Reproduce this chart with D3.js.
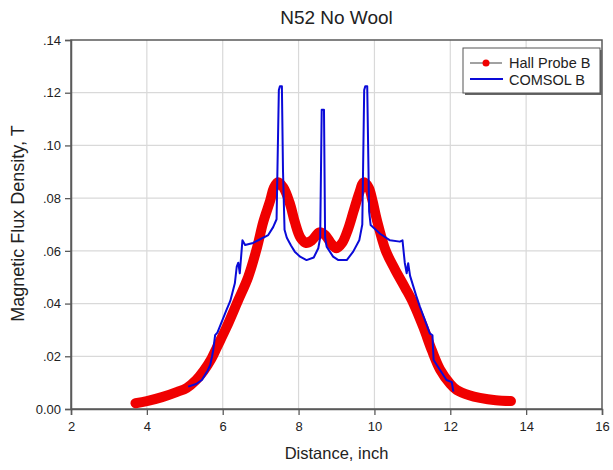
<!DOCTYPE html>
<html>
<head>
<meta charset="utf-8">
<script src="https://cdn.jsdelivr.net/npm/d3@7"></script>
<style>
  html, body { margin: 0; padding: 0; background: #fff; }
  svg { display: block; font-family: "Liberation Sans", Arial, sans-serif; }
</style>
</head>
<body>
<svg id="chart" width="613" height="470"></svg>
<script>
// ---- data ----
const title = "N52 No Wool";
const xLabel = "Distance, inch";
const yLabel = "Magnetic Flux Density, T";
const seriesNames = ["Hall Probe B", "COMSOL B"];
const xTicks = [2, 4, 6, 8, 10, 12, 14, 16];
const yTicks = [0, 0.02, 0.04, 0.06, 0.08, 0.10, 0.12, 0.14];

const hallX = [3.7, 4.0, 4.4, 4.8, 5.05, 5.3, 5.5, 5.7, 5.85, 6.1, 6.4, 6.67, 6.9, 7.07, 7.25, 7.35, 7.46,
  7.6, 7.77, 7.9, 8.05, 8.2, 8.35, 8.55, 8.7, 8.85, 9.0, 9.15, 9.3, 9.45, 9.6, 9.72,
  9.85, 9.95, 10.06, 10.3, 10.54, 10.81, 11.03, 11.29, 11.51, 11.73, 12.0, 12.17, 12.5, 12.78, 13.2, 13.6];
const hallB = [0.0022, 0.003, 0.0045, 0.0065, 0.008, 0.011, 0.0145, 0.019, 0.0235, 0.031, 0.041, 0.050, 0.061, 0.071, 0.079, 0.084, 0.086,
  0.084, 0.078, 0.071, 0.065, 0.063, 0.064, 0.067, 0.066, 0.063, 0.061, 0.063, 0.068, 0.075, 0.082, 0.086,
  0.084, 0.079, 0.072, 0.060, 0.053, 0.046, 0.040, 0.031, 0.0224, 0.015, 0.0095, 0.0072, 0.0052, 0.0042, 0.0033, 0.003];

const comsolX = [5.09, 5.3, 5.45, 5.6, 5.67, 5.72, 5.75, 5.8, 5.86, 6.0, 6.1, 6.2, 6.32, 6.37, 6.41, 6.45, 6.52, 6.59,
  6.8, 7.0, 7.2, 7.33, 7.42, 7.48, 7.51, 7.56, 7.59, 7.63, 7.69, 7.8, 7.9, 8.04, 8.21, 8.4, 8.52,
  8.57, 8.61, 8.67, 8.7, 8.74, 8.91, 9.05, 9.27, 9.44, 9.6, 9.68, 9.73, 9.76, 9.81, 9.86, 9.9,
  10.15, 10.41, 10.67, 10.74, 10.8, 10.85, 10.89, 10.94, 11.1, 11.2, 11.46, 11.53, 11.56, 11.73, 11.9, 12.04, 12.08];
const comsolB = [0.0085, 0.0095, 0.011, 0.0145, 0.0167, 0.020, 0.0224, 0.028, 0.029, 0.034, 0.0376, 0.041, 0.0477, 0.054, 0.0555, 0.0515, 0.064, 0.0622,
  0.063, 0.0645, 0.066, 0.069, 0.072, 0.121, 0.1225, 0.1225, 0.09, 0.068, 0.065, 0.062, 0.0597, 0.0578, 0.0565, 0.0575, 0.061,
  0.065, 0.1135, 0.1135, 0.065, 0.0616, 0.0578, 0.0565, 0.0565, 0.0597, 0.064, 0.07, 0.121, 0.1225, 0.1225, 0.075, 0.0698,
  0.0665, 0.064, 0.0635, 0.064, 0.0555, 0.0515, 0.0553, 0.0505, 0.043, 0.0388, 0.0287, 0.028, 0.0186, 0.0148, 0.011, 0.0102, 0.0066];

// ---- layout ----
const svg = d3.select("#chart");
const L = 71, R = 602, T = 40, B = 409;
const x = d3.scaleLinear().domain([2, 16]).range([L, R]);
const y = d3.scaleLinear().domain([0, 0.14]).range([B, T]);

// gridlines
svg.append("g").selectAll("line.vx").data(xTicks.slice(1, -1)).join("line")
  .attr("x1", d => x(d)).attr("x2", d => x(d)).attr("y1", T).attr("y2", B)
  .attr("stroke", "#d9d9d9").attr("stroke-width", 1.2);
svg.append("g").selectAll("line.hy").data(yTicks.slice(1, -1)).join("line")
  .attr("x1", L).attr("x2", R).attr("y1", d => y(d)).attr("y2", d => y(d))
  .attr("stroke", "#d9d9d9").attr("stroke-width", 1.2);

// frame
svg.append("rect").attr("x", L).attr("y", T).attr("width", R - L).attr("height", B - T)
  .attr("fill", "none").attr("stroke", "#5a5a5a").attr("stroke-width", 1.5);

// axes
const fmtY = d => d === 0 ? "0.00" : d3.format(".2f")(d).replace(/^0/, "");
const xAxis = svg.append("g").attr("transform", `translate(0,${B})`)
  .call(d3.axisBottom(x).tickValues(xTicks).tickSize(6).tickPadding(7).tickFormat(d3.format("d")));
const yAxis = svg.append("g").attr("transform", `translate(${L},0)`)
  .call(d3.axisLeft(y).tickValues(yTicks).tickSize(6).tickPadding(4).tickFormat(fmtY));
[xAxis, yAxis].forEach(g => {
  g.select(".domain").attr("stroke", "#5a5a5a").attr("stroke-width", 1.5);
  g.selectAll(".tick line").attr("stroke", "#5a5a5a").attr("stroke-width", 1.3);
  g.selectAll(".tick text").attr("fill", "#222").style("font-size", "13px")
    .style("font-family", "'Liberation Sans', Arial, sans-serif");
});

// series
const hall = hallX.map((v, i) => [v, hallB[i]]);
const comsol = comsolX.map((v, i) => [v, comsolB[i]]);

svg.append("path").datum(hall)
  .attr("d", d3.line().x(d => x(d[0])).y(d => y(d[1])).curve(d3.curveCatmullRom.alpha(0.5)))
  .attr("fill", "none").attr("stroke", "#f00000").attr("stroke-width", 10)
  .attr("stroke-linecap", "round").attr("stroke-linejoin", "round");

svg.append("path").datum(comsol)
  .attr("d", d3.line().x(d => x(d[0])).y(d => y(d[1])))
  .attr("fill", "none").attr("stroke", "#0a0ad8").attr("stroke-width", 2)
  .attr("stroke-linejoin", "round");

// title & labels
svg.append("text").attr("x", (L + R) / 2).attr("y", 24).attr("text-anchor", "middle")
  .style("font-size", "19px").attr("fill", "#222").text(title);
svg.append("text").attr("x", (L + R) / 2).attr("y", 459).attr("text-anchor", "middle")
  .style("font-size", "16.5px").attr("fill", "#222").text(xLabel);
svg.append("text").attr("transform", `translate(24,${(T + B) / 2 - 1}) rotate(-90)`)
  .attr("text-anchor", "middle").style("font-size", "18px").attr("fill", "#222").text(yLabel);

// legend
const lg = svg.append("g");
lg.append("rect").attr("x", 465).attr("y", 50).attr("width", 137).attr("height", 45)
  .attr("fill", "#666");
lg.append("rect").attr("x", 463).attr("y", 48).attr("width", 137).attr("height", 45)
  .attr("fill", "#fff").attr("stroke", "#555").attr("stroke-width", 1);
lg.append("line").attr("x1", 470).attr("x2", 502).attr("y1", 63).attr("y2", 63)
  .attr("stroke", "#444").attr("stroke-width", 1);
lg.append("circle").attr("cx", 486).attr("cy", 63).attr("r", 3.5).attr("fill", "#f00000");
lg.append("line").attr("x1", 470).attr("x2", 503).attr("y1", 79).attr("y2", 79)
  .attr("stroke", "#0a0ad8").attr("stroke-width", 2.2);
lg.append("text").attr("x", 509).attr("y", 68).style("font-size", "14.5px").attr("fill", "#222").text(seriesNames[0]);
lg.append("text").attr("x", 509).attr("y", 84.5).style("font-size", "14.5px").attr("fill", "#222").text(seriesNames[1]);
</script>
</body>
</html>
